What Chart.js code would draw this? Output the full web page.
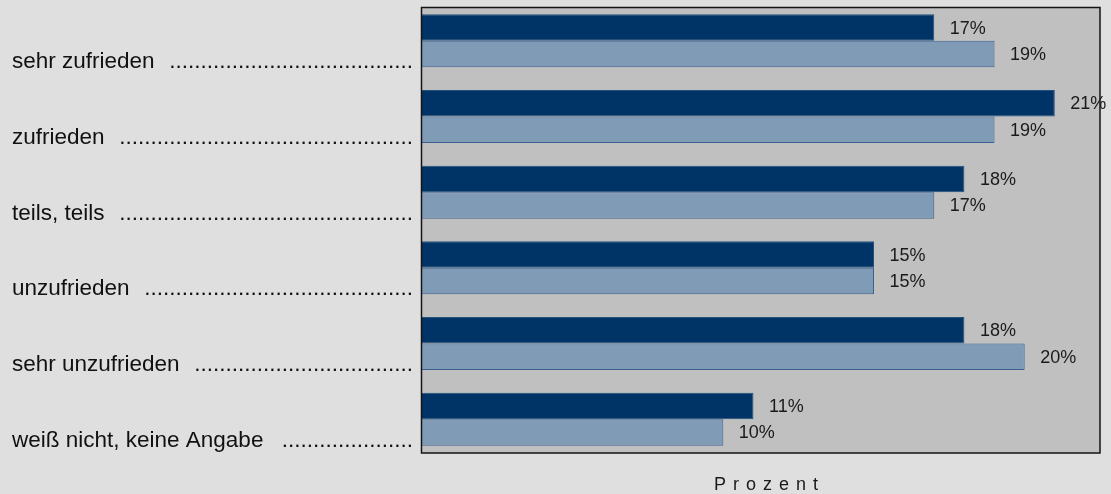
<!DOCTYPE html>
<html>
<head>
<meta charset="utf-8">
<script src="https://cdn.jsdelivr.net/npm/chart.js@4/dist/chart.umd.min.js"></script>
<style>
  html, body { margin: 0; padding: 0; background: #dfdfdf; }
  #wrap { width: 1111px; height: 494px; }
</style>
</head>
<body>
<div id="wrap"><canvas id="grafico"></canvas></div>
<script>
// datos
var kategorien = ["sehr zufrieden", "zufrieden", "teils, teils", "unzufrieden", "sehr unzufrieden", "weiß nicht, keine Angabe"]
var reihe1 = [17, 21, 18, 15, 18, 11]   // dunkle Balken
var reihe2 = [19, 19, 17, 15, 20, 10]   // helle Balken
var achsenTitel = "Prozent"

// fondo, marco y textos
const zeichnen = {
  id: 'zeichnen',
  beforeDraw(chart) {
    const { ctx, chartArea: a } = chart
    ctx.save()
    ctx.fillStyle = '#dfdfdf'
    ctx.fillRect(0, 0, chart.width, chart.height)
    ctx.fillStyle = '#c0c0c0'
    ctx.fillRect(a.left - 0.5, a.top + 4.5, a.right - a.left + 0.5, a.bottom - a.top - 8.5)
    ctx.restore()
  },
  afterDraw(chart) {
    const { ctx, chartArea: a, scales } = chart
    ctx.save()
    // marco
    ctx.strokeStyle = '#141414'
    ctx.lineWidth = 1.5
    ctx.strokeRect(a.left - 0.5, a.top + 4.5, a.right - a.left + 0.5, a.bottom - a.top - 8.5)

    // etiquetas de categorias con puntos
    ctx.fillStyle = '#111'
    ctx.font = '22.5px "Liberation Sans", Arial, sans-serif'
    ctx.textBaseline = 'alphabetic'
    const dotW = ctx.measureText('.').width
    kategorien.forEach((k, i) => {
      const y = scales.y.getPixelForValue(i) + 27.5
      ctx.textAlign = 'left'
      ctx.fillText(k, 12, y)
      const ende = 12 + ctx.measureText(k + '  ').width
      const n = Math.floor((413 - ende) / dotW)
      ctx.textAlign = 'right'
      ctx.fillText('.'.repeat(Math.max(n, 0)), 413, y)
    })

    // valores
    ctx.font = '18px "Liberation Sans", Arial, sans-serif'
    ctx.textAlign = 'left'
    ctx.textBaseline = 'middle'
    ctx.fillStyle = '#1a1a1a'
    chart.data.datasets.forEach((ds, d) => {
      chart.getDatasetMeta(d).data.forEach((bar, i) => {
        ctx.fillText(ds.data[i] + '%', bar.x + 15.5, bar.y + 1)
      })
    })

    // titulo del eje con espaciado
    ctx.font = '18px "Liberation Sans", Arial, sans-serif'
    ctx.textBaseline = 'alphabetic'
    const abstand = 7
    let breite = 0
    for (const c of achsenTitel) breite += ctx.measureText(c).width
    breite += abstand * (achsenTitel.length - 1)
    let x = (a.left + a.right) / 2 + 5 - breite / 2
    for (const c of achsenTitel) {
      ctx.fillText(c, x, 490)
      x += ctx.measureText(c).width + abstand
    }
    ctx.restore()
  }
}

const ctx = document.getElementById('grafico').getContext('2d')
const myChart = new Chart(ctx, {
  type: 'bar',
  data: {
    labels: kategorien,
    datasets: [{
      label: 'Reihe 1',
      data: reihe1,
      backgroundColor: '#003366',
      borderColor: '#24507e',
      borderWidth: 1,
      borderSkipped: 'left',
      categoryPercentage: 0.70,
      barPercentage: 1
    }, {
      label: 'Reihe 2',
      data: reihe2,
      backgroundColor: '#809bb6',
      borderColor: '#3a6190',
      borderWidth: 1,
      borderSkipped: 'left',
      categoryPercentage: 0.70,
      barPercentage: 1
    }]
  },
  options: {
    indexAxis: 'y',
    responsive: true,
    maintainAspectRatio: false,
    animation: false,
    layout: { padding: { left: 422, right: 11, top: 3, bottom: 37 } },
    scales: {
      x: { display: false, min: 0, max: 22.5 },
      y: { display: false }
    },
    plugins: {
      legend: { display: false },
      tooltip: { enabled: false }
    }
  },
  plugins: [zeichnen]
})
</script>
</body>
</html>
